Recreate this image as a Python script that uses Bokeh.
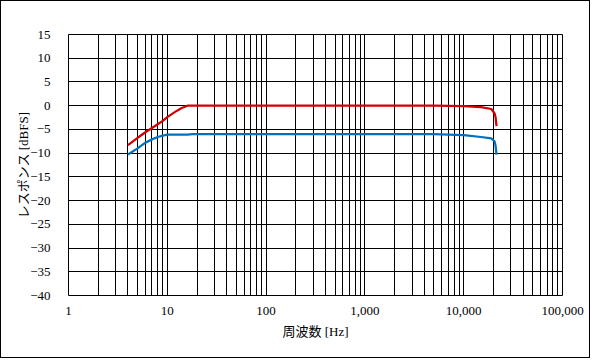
from bokeh.plotting import figure
from bokeh.models import FixedTicker, Range1d
from bokeh.embed import file_html
from bokeh.resources import INLINE

# Data
freq = [4, 5, 6, 7, 8, 9, 10, 12, 14, 16, 18, 20, 100, 1000, 5000, 10000, 15000, 19000, 20500, 21000, 21500]
red_resp = [-8.3, -6.8, -5.6, -4.7, -3.9, -3.2, -2.4, -1.3, -0.5, 0.0, 0.0, 0.0, 0.0, 0.0, 0.0, -0.1, -0.3, -0.7, -1.6, -2.4, -4.3]
blue_resp = [-10.3, -9.0, -7.8, -7.1, -6.6, -6.3, -6.1, -6.1, -6.1, -6.1, -6.0, -6.0, -6.0, -6.0, -6.0, -6.2, -6.6, -6.9, -7.5, -8.4, -10.3]

x_major = [1, 10, 100, 1000, 10000, 100000]
x_labels = ["1", "10", "100", "1,000", "10,000", "100,000"]
y_ticks = [-40, -35, -30, -25, -20, -15, -10, -5, 0, 5, 10, 15]

x_minor = [m * d for d in [1, 10, 100, 1000, 10000] for m in range(2, 10)]

p = figure(width=590, height=358, x_axis_type="log",
           x_range=Range1d(1, 100000), y_range=Range1d(-40, 15),
           output_backend="svg", toolbar_location=None,
           min_border_left=67, min_border_right=29, min_border_top=33, min_border_bottom=64)
p.styles = {"border": "1px solid black"}

p.outline_line_color = "black"
p.outline_line_width = 1

p.xaxis.ticker = FixedTicker(ticks=x_major, minor_ticks=x_minor)
p.xaxis.major_label_overrides = {t: l for t, l in zip(x_major, x_labels)}
p.yaxis.ticker = FixedTicker(ticks=y_ticks)

for ax in [p.xaxis[0], p.yaxis[0]]:
    ax.axis_line_color = None
    ax.major_tick_line_color = None
    ax.minor_tick_line_color = None
    ax.major_label_text_font = "'Liberation Serif', serif"
    ax.major_label_text_font_size = "13px"
    ax.major_label_text_color = "black"
    ax.axis_label_text_font = "'Liberation Serif', 'Noto Sans CJK JP', serif"
    ax.axis_label_text_font_size = "13px"
    ax.axis_label_text_font_style = "normal"
    ax.axis_label_text_color = "black"

p.xaxis.major_label_standoff = 5
p.yaxis.major_label_standoff = 12
p.xaxis.axis_label = "周波数 [Hz]"
p.yaxis.axis_label = "レスポンス [dBFS]"
p.xaxis.axis_label_standoff = 6
p.yaxis.axis_label_standoff = -4

p.xgrid.grid_line_color = "black"
p.xgrid.minor_grid_line_color = "black"
p.xgrid.grid_line_alpha = 1
p.ygrid.grid_line_color = "black"
p.ygrid.grid_line_alpha = 1

p.line(freq, blue_resp, line_color="#0070C0", line_width=2.25)
p.line(freq, red_resp, line_color="#D00000", line_width=2.25)

open("out.html", "w").write(file_html(p, INLINE))
